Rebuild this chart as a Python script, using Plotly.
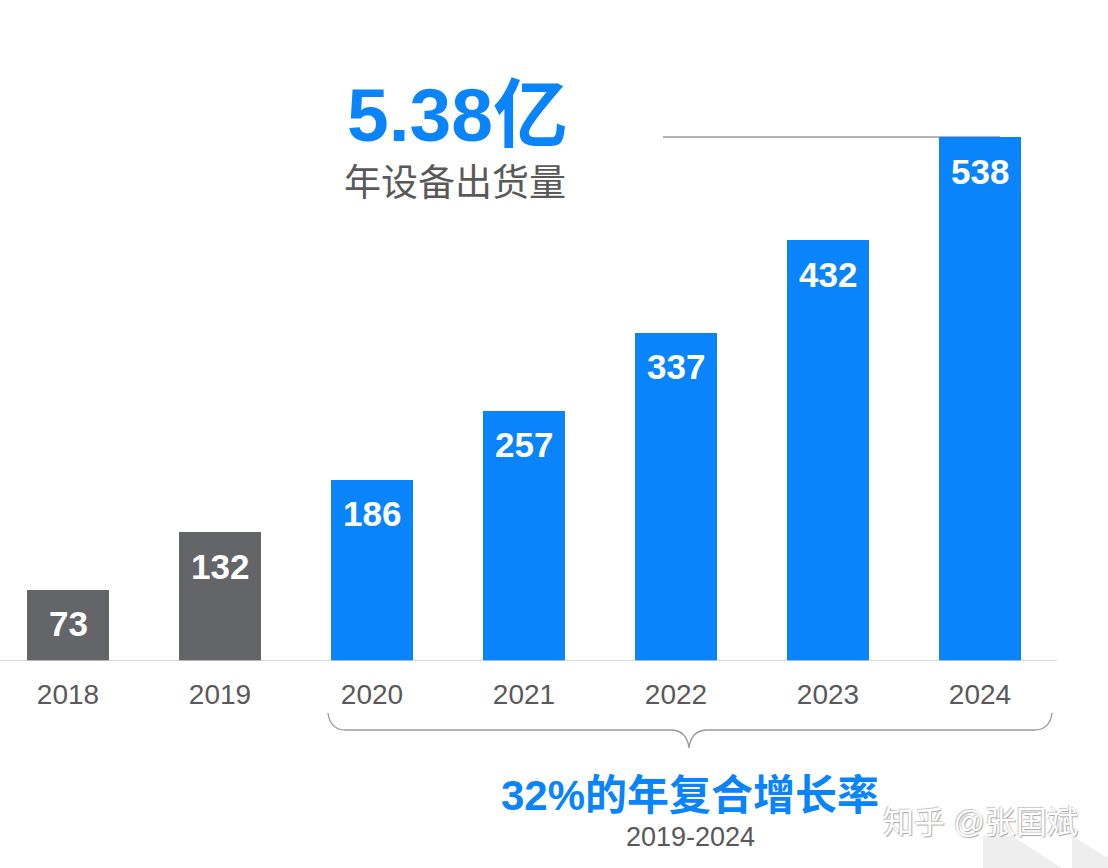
import plotly.graph_objects as go

# ---- data ----
years = ["2018", "2019", "2020", "2021", "2022", "2023", "2024"]
shipments = [73, 132, 186, 257, 337, 432, 538]  # 百万台
headline_value = "5.38亿"
headline_sub = "年设备出货量"
cagr_text = "32%的年复合增长率"
cagr_period = "2019-2024"
watermark = "知乎 @张国斌"

# ---- styling ----
W, H = 1108, 868
BLUE = "#0A84FA"
GRAY_BAR = "#636569"
TEXT_GRAY = "#595959"
FONT = "Liberation Sans, Arial, Noto Sans CJK SC, sans-serif"

def px(x):
    return x / W

def py(y):
    return 1 - y / H

x_idx = list(range(len(years)))
colors = [GRAY_BAR if i < 2 else BLUE for i in x_idx]

fig = go.Figure()
fig.add_trace(go.Bar(
    x=x_idx, y=shipments, marker=dict(color=colors, line=dict(width=0)),
    width=0.54, hoverinfo="skip", showlegend=False,
))

annotations = []
for i, v in zip(x_idx, shipments):
    annotations.append(dict(
        x=i, y=v, xref="x", yref="y", text=f"<b>{v}</b>", showarrow=False,
        yanchor="middle", yshift=-34,
        font=dict(family=FONT, size=35, color="white"),
    ))

# headline
annotations.append(dict(
    x=px(345), y=py(115), xref="paper", yref="paper", text=f"<b>{headline_value}</b>",
    showarrow=False, xanchor="left", yanchor="middle",
    font=dict(family=FONT, size=75, color=BLUE),
))
annotations.append(dict(
    x=px(342), y=py(183), xref="paper", yref="paper", text=headline_sub,
    showarrow=False, xanchor="left", yanchor="middle",
    font=dict(family=FONT, size=37, color=TEXT_GRAY),
))
# CAGR
annotations.append(dict(
    x=px(690), y=py(795), xref="paper", yref="paper", text=f"<b>{cagr_text}</b>",
    showarrow=False, xanchor="center", yanchor="middle",
    font=dict(family=FONT, size=42, color=BLUE),
))
annotations.append(dict(
    x=px(690), y=py(837), xref="paper", yref="paper", text=cagr_period,
    showarrow=False, xanchor="center", yanchor="middle",
    font=dict(family=FONT, size=27, color=TEXT_GRAY),
))
# watermark
annotations.append(dict(
    x=px(1080), y=py(822), xref="paper", yref="paper", text=watermark,
    showarrow=False, xanchor="right", yanchor="middle",
    font=dict(family=FONT, size=31, color="#ffffff",
              shadow="1px 1px 1px #a8a8a8, -1px -1px 1px #c8c8c8"),
))

def P(x, y):
    return f"{px(x):.5f},{py(y):.5f}"

brace = (
    f"M {P(328,713)} Q {P(330,730)} {P(346,730)} L {P(672,730)} "
    f"Q {P(687,731)} {P(689,748)} Q {P(691,731)} {P(706,730)} "
    f"L {P(1034,730)} Q {P(1050,730)} {P(1052,713)}"
)

shapes = [
    # decorative pale shapes bottom-right
    dict(type="path", xref="paper", yref="paper", layer="below",
         path=f"M {P(983,836)} L {P(1012,836)} L {P(1062,868)} L {P(983,868)} Z",
         fillcolor="#eeeeee", line=dict(width=0)),
    dict(type="path", xref="paper", yref="paper", layer="below",
         path=f"M {P(1072,836)} L {P(1108,858)} L {P(1108,868)} L {P(1072,868)} Z",
         fillcolor="#eeeeee", line=dict(width=0)),
    # baseline
    dict(type="line", xref="paper", yref="y", x0=0, x1=px(1057), y0=0, y1=0,
         line=dict(color="#cfcfcf", width=1.5)),
    # leader line to top bar
    dict(type="line", xref="paper", yref="y", x0=px(663), x1=px(1000), y0=shipments[-1], y1=shipments[-1],
         line=dict(color="#9a9a9a", width=1.5), layer="below"),
    # brace
    dict(type="path", xref="paper", yref="paper", path=brace,
         line=dict(color="#9a9a9a", width=1.3)),
]

plot_h = 661
unit = 524 / 538
x0 = -68 / 152
fig.update_layout(
    width=W, height=H,
    margin=dict(l=0, r=0, t=0, b=0),
    paper_bgcolor="white", plot_bgcolor="rgba(0,0,0,0)",
    xaxis=dict(range=[x0, x0 + W / 152], tickvals=x_idx, ticktext=years,
               showgrid=False, zeroline=False, showline=False, ticks="",
               tickfont=dict(family=FONT, size=28, color=TEXT_GRAY),
               ticklabelstandoff=14, fixedrange=True),
    yaxis=dict(domain=[1 - plot_h / H, 1], range=[0, plot_h / unit],
               showgrid=False, zeroline=False, showline=False, showticklabels=False,
               fixedrange=True),
    annotations=annotations, shapes=shapes,
    bargap=0, showlegend=False,
)

fig.write_html("out.html", config={"displayModeBar": False},
               post_script="document.body.style.margin='0';document.body.style.overflow='hidden';")
